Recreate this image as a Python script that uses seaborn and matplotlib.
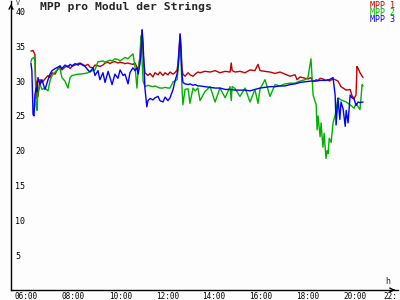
import numpy as np
import pandas as pd
import matplotlib
matplotlib.use("Agg")
import matplotlib.pyplot as plt
import seaborn as sns

# ---- data (hours, volts) ----
t1 = [6.68, 6.77, 6.85, 6.90, 6.94, 6.98, 7.07, 7.15, 7.28, 7.41, 7.49, 7.58, 7.71, 7.83, 7.92, 8.00,
      8.13, 8.26, 8.35, 8.43, 8.56, 8.69, 8.77, 8.99, 9.11, 9.20, 9.33, 9.41, 9.54, 9.62, 9.75, 9.84,
      9.97, 10.05, 10.14, 10.26, 10.39, 10.48, 10.61, 10.69, 10.82, 10.90, 11.03, 11.12, 11.20, 11.25,
      11.33, 11.37, 11.42, 11.46, 11.54, 11.67, 11.76, 11.88, 11.97, 12.10, 12.18, 12.31, 12.40, 12.52,
      12.61, 12.74, 12.82, 12.91, 12.95, 13.04, 13.08, 13.12, 13.16, 13.25, 13.38, 13.46, 13.59, 13.68,
      13.80, 13.89, 14.10, 14.32, 14.53, 14.74, 14.96, 15.17, 15.22, 15.26, 15.39, 15.59, 15.81, 16.02,
      16.23, 16.36, 16.45, 16.66, 16.87, 17.09, 17.30, 17.51, 17.73, 17.94, 18.03, 18.15, 18.37, 18.49,
      18.62, 18.71, 18.84, 18.92, 19.01, 19.13, 19.26, 19.35, 19.40, 19.56, 19.65, 19.77, 19.90, 19.99,
      20.12, 20.29, 20.37, 20.46, 20.54, 20.58, 20.63, 20.71, 20.80, 20.84]
mpp1 = [34.3, 34.4, 33.8, 27.5, 30.0, 27.8, 30.2, 29.8, 30.3, 30.8, 30.5, 31.2, 31.0, 31.8, 32.0, 31.6,
        32.0, 32.2, 31.8, 32.1, 32.3, 32.5, 32.6, 32.2, 32.4, 32.0, 31.9, 32.3, 32.2, 32.1, 32.3, 32.6,
        32.7, 32.5, 32.7, 32.8, 32.6, 32.7, 32.6, 32.5, 32.6, 32.5, 32.4, 32.6, 32.0, 31.6,
        33.5, 35.5, 37.4, 34.0, 31.2, 30.8, 31.1, 30.6, 31.2, 30.9, 31.3, 30.8, 31.2, 30.9,
        31.3, 31.0, 31.2, 31.6, 32.5, 36.8, 35.0, 31.8, 31.0, 30.7, 31.2, 30.9, 30.7, 31.0,
        31.3, 31.2, 31.4, 31.3, 31.5, 31.2, 31.4, 31.3, 32.6, 31.5, 31.3, 31.4, 31.2, 31.6,
        31.5, 32.4, 31.5, 31.4, 31.3, 31.1, 31.3, 31.0, 30.7, 30.9, 30.2, 30.6, 30.4, 30.3,
        30.5, 29.9, 30.2, 30.1, 30.4, 30.3, 30.1, 30.2, 30.0, 30.3, 30.2, 30.0, 29.2, 29.0,
        28.7, 28.8, 27.9, 27.5, 28.0, 32.1, 31.8, 31.2, 30.7, 30.5]

t2 = [6.68, 6.72, 6.81, 6.85, 6.90, 6.94, 6.98, 7.07, 7.15, 7.28, 7.41, 7.49, 7.58, 7.71, 7.83, 7.92,
      8.00, 8.13, 8.26, 8.35, 8.43, 8.56, 8.69, 8.77, 8.99, 9.11, 9.20, 9.33, 9.41, 9.54, 9.62, 9.75,
      9.84, 9.97, 10.05, 10.14, 10.26, 10.39, 10.48, 10.61, 10.69, 10.82, 10.90, 11.03, 11.12, 11.20,
      11.25, 11.33, 11.37, 11.42, 11.46, 11.54, 11.67, 11.76, 11.88, 11.97, 12.10, 12.18, 12.31, 12.40,
      12.52, 12.61, 12.74, 12.82, 12.91, 12.95, 13.04, 13.08, 13.12, 13.16, 13.25, 13.38, 13.46, 13.59,
      13.68, 13.80, 13.89, 14.10, 14.32, 14.53, 14.74, 14.96, 15.17, 15.22, 15.26, 15.39, 15.59, 15.81,
      16.02, 16.23, 16.36, 16.45, 16.66, 16.87, 17.09, 17.30, 17.51, 17.73, 17.94, 18.15, 18.37, 18.49,
      18.62, 18.71, 18.84, 18.88, 18.92, 19.01, 19.05, 19.13, 19.18, 19.26, 19.31, 19.35, 19.40, 19.48,
      19.56, 19.65, 19.77, 19.90, 20.12, 20.29, 20.46, 20.54, 20.71, 20.80, 20.84]
mpp2 = [32.8, 33.2, 33.4, 32.9, 26.5, 25.8, 28.5, 29.5, 28.8, 29.0, 28.6, 30.0, 30.8, 31.3, 31.7, 31.8,
        30.5, 30.0, 29.0, 30.5, 30.8, 30.9, 31.0, 31.0, 31.1, 31.2, 31.4, 31.5, 31.6, 32.8, 32.8, 32.9,
        32.7, 32.9, 33.0, 32.9, 33.2, 33.1, 32.9, 33.2, 33.4, 33.2, 33.5, 33.9, 32.0, 29.0,
        31.5, 33.5, 36.5, 33.0, 30.0, 29.2, 29.4, 29.3, 29.2, 29.3, 29.1, 29.0, 29.0, 29.1,
        29.0, 29.0, 29.9, 30.0, 30.2, 31.5, 35.2, 33.0, 29.0, 26.6, 28.8, 28.9, 26.8, 29.0,
        28.6, 29.0, 27.2, 28.5, 29.2, 27.0, 29.0, 27.6, 29.2, 27.2, 29.2, 28.9, 27.8, 29.0,
        27.0, 28.8, 26.8, 28.9, 30.2, 27.8, 29.5, 29.3, 29.6, 29.7, 29.7, 30.0, 30.2, 30.5,
        33.2, 28.0, 26.6, 23.0, 25.0, 22.0, 24.0, 20.5, 22.5, 18.9, 20.0, 19.6, 21.8, 21.2,
        24.0, 25.1, 27.6, 27.3, 27.0, 26.6, 26.1, 26.8, 25.9, 29.5, 29.3]

t3 = [6.68, 6.72, 6.77, 6.81, 6.85, 6.90, 6.94, 6.98, 7.07, 7.15, 7.28, 7.41, 7.49, 7.58, 7.71, 7.83,
      7.92, 8.00, 8.13, 8.26, 8.35, 8.43, 8.56, 8.69, 8.77, 8.99, 9.11, 9.20, 9.33, 9.41, 9.54, 9.62,
      9.75, 9.84, 9.97, 10.05, 10.14, 10.26, 10.39, 10.48, 10.61, 10.69, 10.82, 10.90, 11.03, 11.12,
      11.20, 11.25, 11.33, 11.37, 11.42, 11.46, 11.54, 11.62, 11.67, 11.76, 11.88, 11.97, 12.10, 12.18,
      12.31, 12.40, 12.52, 12.61, 12.74, 12.82, 12.91, 12.95, 13.04, 13.08, 13.12, 13.16, 13.25, 13.38,
      13.46, 13.59, 13.68, 13.80, 13.89, 14.10, 14.32, 14.53, 14.74, 14.96, 15.17, 15.39, 15.59, 15.81,
      16.02, 16.23, 16.45, 16.66, 16.87, 17.09, 17.30, 17.51, 17.73, 17.94, 18.15, 18.37, 18.62, 18.84,
      19.01, 19.26, 19.40, 19.56, 19.65, 19.69, 19.77, 19.85, 19.90, 19.99, 20.08, 20.12, 20.20, 20.29,
      20.37, 20.46, 20.54, 20.63, 20.71, 20.84]
mpp3 = [32.6, 31.5, 25.2, 25.0, 28.0, 29.0, 28.5, 30.5, 29.5, 30.2, 28.8, 30.2, 31.0, 31.5, 31.8, 32.0,
        32.2, 31.8, 32.3, 32.0, 32.4, 32.2, 32.5, 32.3, 32.5, 32.1, 31.6, 31.3, 31.9, 30.8, 31.5, 30.2,
        31.2, 29.8, 31.4, 30.5, 29.5, 31.0, 30.4, 31.6, 30.8, 31.0, 29.6, 31.2, 31.9, 31.5,
        31.9, 31.0, 32.5, 34.0, 37.3, 35.5, 29.0, 26.3, 27.2, 27.5, 27.3, 27.6, 27.8, 27.2,
        27.0, 27.7, 27.2, 27.6, 28.8, 30.0, 31.0, 32.0, 36.7, 34.0, 31.0, 29.8, 29.6, 29.5,
        29.6, 29.4, 29.5, 29.3, 29.3, 29.2, 29.1, 29.0, 29.0, 28.8, 28.8, 28.7, 28.7, 28.7,
        28.6, 28.8, 29.0, 29.1, 29.2, 29.2, 29.3, 29.3, 29.5, 29.6, 29.8, 29.9, 30.0, 30.0,
        30.1, 30.1, 30.2, 30.5, 28.0, 23.7, 27.5, 24.5, 27.0, 26.0, 23.5, 25.8, 24.0, 28.0,
        27.6, 27.4, 26.5, 27.0, 26.9, 27.0]

series_names = ["MPP 1", "MPP 2", "MPP 3"]
colors = ["#c00000", "#00b000", "#0000ff"]
xtick_hours = [6, 8, 10, 12, 14, 16, 18, 20, 22]
xtick_labels = ["06:00", "08:00", "10:00", "12:00", "14:00", "16:00", "18:00", "20:00", "22:"]
ytick_vals = [5, 10, 15, 20, 25, 30, 35, 40]

df = pd.concat([
    pd.DataFrame({"t": t1, "v": mpp1, "s": series_names[0]}),
    pd.DataFrame({"t": t2, "v": mpp2, "s": series_names[1]}),
    pd.DataFrame({"t": t3, "v": mpp3, "s": series_names[2]}),
], ignore_index=True)

sns.set_style("white")
plt.rcParams["font.family"] = ["DejaVu Sans Mono", "DejaVu Sans"]

fig = plt.figure(figsize=(4, 3), dpi=100)
fig.patch.set_facecolor("#fdfdfd")
ax = fig.add_axes([11 / 400, 10 / 300, 387 / 400, 289 / 300])
ax.set_facecolor("#fdfdfd")

sns.lineplot(data=df, x="t", y="v", hue="s", palette=dict(zip(series_names, colors)),
             estimator=None, sort=False, linewidth=1.0, ax=ax, legend=False)

ax.set_xlim(5.83, 22.33)
ax.set_ylim(0, 41.5)
ax.set_xlabel("")
ax.set_ylabel("")
for s in ["top", "right"]:
    ax.spines[s].set_visible(False)
for s in ["left", "bottom"]:
    ax.spines[s].set_color("black")
    ax.spines[s].set_linewidth(1.0)

ax.set_xticks(xtick_hours)
ax.set_xticklabels(xtick_labels)
ax.set_yticks(ytick_vals)
ax.set_yticklabels([str(v) for v in ytick_vals])
ax.tick_params(axis="both", direction="inout", length=4, width=1, colors="black")
ax.tick_params(axis="y", pad=-5, labelsize=6)
ax.tick_params(axis="x", pad=-0.5, labelsize=5.5)
for lab in ax.get_yticklabels():
    lab.set_ha("left")
xlabs = ax.get_xticklabels()
for lab in xlabs[:-1]:
    lab.set_ha("left")
xlabs[-1].set_ha("center")

# axis arrows
ax.annotate("", xy=(0, 1.0), xytext=(0, 0.97), xycoords="axes fraction",
            arrowprops=dict(arrowstyle="->", color="black", lw=1, mutation_scale=7), annotation_clip=False)
ax.annotate("", xy=(1.0, 0), xytext=(0.98, 0), xycoords="axes fraction",
            arrowprops=dict(arrowstyle="->", color="black", lw=1, mutation_scale=7), annotation_clip=False)

fig.text(16 / 400, 1 - 0.2 / 300, "V", fontsize=4.8, va="top", ha="left")
fig.text(385 / 400, 1 - 277 / 300, "h", fontsize=6, va="top", ha="left")
fig.text(40 / 400, 1 - 2 / 300, "MPP pro Modul der Strings", fontsize=8.2, fontweight="bold",
         va="top", ha="left")
for i, (name, c) in enumerate(zip(series_names, colors)):
    fig.text(395 / 400, 1 - (0.5 + 7.5 * i) / 300, name, color=c, fontsize=6, va="top", ha="right")

fig.savefig("out.png", dpi=100, facecolor=fig.get_facecolor())
